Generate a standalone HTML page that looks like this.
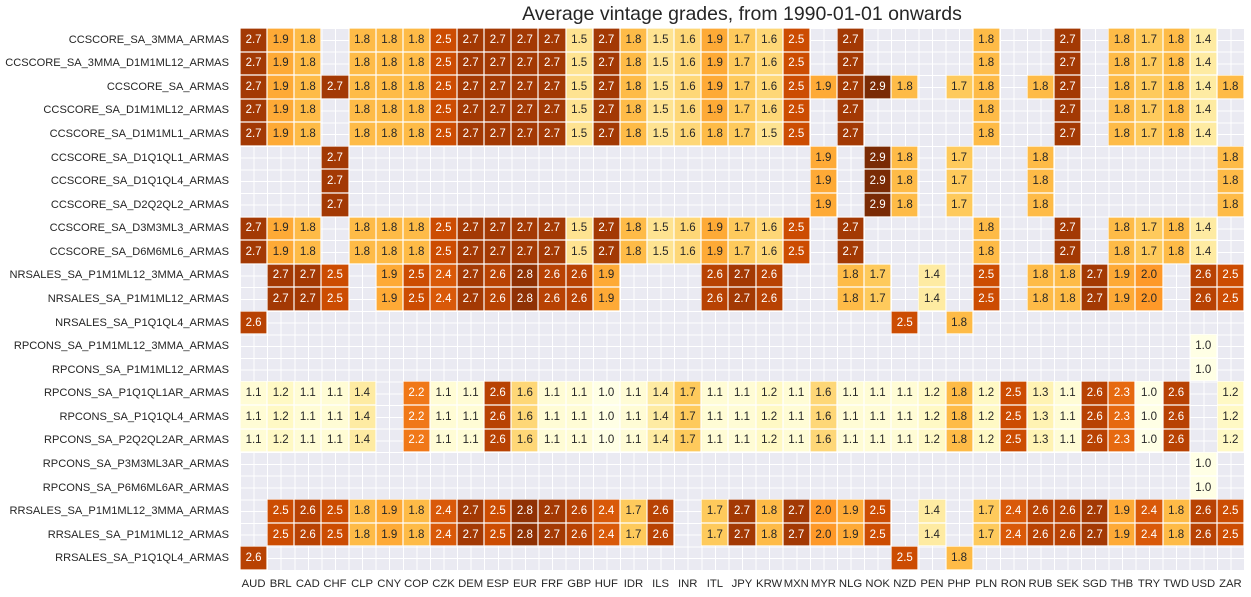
<!DOCTYPE html>
<html><head><meta charset="utf-8"><style>
body{margin:0;width:1251px;height:597px;background:#fff;position:relative;font-family:"Liberation Sans",Arial,sans-serif;color:#262626;overflow:hidden}
#t{position:absolute;left:240px;width:1004px;top:3px;text-align:center;font-size:19.5px}
#g{position:absolute;left:240px;top:28px;width:1004px;height:542px;display:grid;grid-template-columns:repeat(37,1fr);grid-template-rows:repeat(23,1fr);
background-color:#eaeaf2;
background-image:repeating-linear-gradient(to right,#fff 0,#fff 1px,transparent 1px,transparent 13.5676px),repeating-linear-gradient(to bottom,#fff 0,#fff 1px,transparent 1px,transparent 11.7826px);}
#g i{font-style:normal;display:flex;align-items:center;justify-content:center;font-size:11.5px}
#g i:not(:empty){box-shadow:inset 0 0 0 0.6px #fff}
#r{position:absolute;left:0;width:229px;top:28px;height:542px;display:grid;grid-template-rows:repeat(23,1fr);font-size:11.1px;text-align:right}
#r div{display:flex;align-items:center;justify-content:flex-end}
#c{position:absolute;left:240px;width:1004px;top:578px;display:grid;grid-template-columns:repeat(37,1fr);font-size:11.3px;text-align:center}
.v10{background:#ffffe5}.v11{background:#fffcd5}.v12{background:#fff9c4}.v13{background:#fff3b3}.v14{background:#feeba2}.v15{background:#fee391}.v16{background:#fed777}.v17{background:#feca5c}.v18{background:#febb47}.v19{background:#feaa36}.v20{background:#fe9929}
.v22{background:#f07818;color:#fff}.v23{background:#e66910;color:#fff}.v24{background:#d95909;color:#fff}.v25{background:#cc4c02;color:#fff}.v26{background:#b84203;color:#fff}.v27{background:#a33904;color:#fff}.v28{background:#8f3104;color:#fff}.v29{background:#7a2b05;color:#fff}
</style></head><body>
<div id="t">Average vintage grades, from 1990-01-01 onwards</div>
<div id="r">
<div>CCSCORE_SA_3MMA_ARMAS</div><div>CCSCORE_SA_3MMA_D1M1ML12_ARMAS</div><div>CCSCORE_SA_ARMAS</div><div>CCSCORE_SA_D1M1ML12_ARMAS</div><div>CCSCORE_SA_D1M1ML1_ARMAS</div><div>CCSCORE_SA_D1Q1QL1_ARMAS</div><div>CCSCORE_SA_D1Q1QL4_ARMAS</div><div>CCSCORE_SA_D2Q2QL2_ARMAS</div><div>CCSCORE_SA_D3M3ML3_ARMAS</div><div>CCSCORE_SA_D6M6ML6_ARMAS</div><div>NRSALES_SA_P1M1ML12_3MMA_ARMAS</div><div>NRSALES_SA_P1M1ML12_ARMAS</div><div>NRSALES_SA_P1Q1QL4_ARMAS</div><div>RPCONS_SA_P1M1ML12_3MMA_ARMAS</div><div>RPCONS_SA_P1M1ML12_ARMAS</div><div>RPCONS_SA_P1Q1QL1AR_ARMAS</div><div>RPCONS_SA_P1Q1QL4_ARMAS</div><div>RPCONS_SA_P2Q2QL2AR_ARMAS</div><div>RPCONS_SA_P3M3ML3AR_ARMAS</div><div>RPCONS_SA_P6M6ML6AR_ARMAS</div><div>RRSALES_SA_P1M1ML12_3MMA_ARMAS</div><div>RRSALES_SA_P1M1ML12_ARMAS</div><div>RRSALES_SA_P1Q1QL4_ARMAS</div>
</div>
<div id="g">
<i class=v27>2.7</i><i class=v19>1.9</i><i class=v18>1.8</i><i></i><i class=v18>1.8</i><i class=v18>1.8</i><i class=v18>1.8</i><i class=v25>2.5</i><i class=v27>2.7</i><i class=v27>2.7</i><i class=v27>2.7</i><i class=v27>2.7</i><i class=v15>1.5</i><i class=v27>2.7</i><i class=v18>1.8</i><i class=v15>1.5</i><i class=v16>1.6</i><i class=v19>1.9</i><i class=v17>1.7</i><i class=v16>1.6</i><i class=v25>2.5</i><i></i><i class=v27>2.7</i><i></i><i></i><i></i><i></i><i class=v18>1.8</i><i></i><i></i><i class=v27>2.7</i><i></i><i class=v18>1.8</i><i class=v17>1.7</i><i class=v18>1.8</i><i class=v14>1.4</i><i></i>
<i class=v27>2.7</i><i class=v19>1.9</i><i class=v18>1.8</i><i></i><i class=v18>1.8</i><i class=v18>1.8</i><i class=v18>1.8</i><i class=v25>2.5</i><i class=v27>2.7</i><i class=v27>2.7</i><i class=v27>2.7</i><i class=v27>2.7</i><i class=v15>1.5</i><i class=v27>2.7</i><i class=v18>1.8</i><i class=v15>1.5</i><i class=v16>1.6</i><i class=v19>1.9</i><i class=v17>1.7</i><i class=v16>1.6</i><i class=v25>2.5</i><i></i><i class=v27>2.7</i><i></i><i></i><i></i><i></i><i class=v18>1.8</i><i></i><i></i><i class=v27>2.7</i><i></i><i class=v18>1.8</i><i class=v17>1.7</i><i class=v18>1.8</i><i class=v14>1.4</i><i></i>
<i class=v27>2.7</i><i class=v19>1.9</i><i class=v18>1.8</i><i class=v27>2.7</i><i class=v18>1.8</i><i class=v18>1.8</i><i class=v18>1.8</i><i class=v25>2.5</i><i class=v27>2.7</i><i class=v27>2.7</i><i class=v27>2.7</i><i class=v27>2.7</i><i class=v15>1.5</i><i class=v27>2.7</i><i class=v18>1.8</i><i class=v15>1.5</i><i class=v16>1.6</i><i class=v19>1.9</i><i class=v17>1.7</i><i class=v16>1.6</i><i class=v25>2.5</i><i class=v19>1.9</i><i class=v27>2.7</i><i class=v29>2.9</i><i class=v18>1.8</i><i></i><i class=v17>1.7</i><i class=v18>1.8</i><i></i><i class=v18>1.8</i><i class=v27>2.7</i><i></i><i class=v18>1.8</i><i class=v17>1.7</i><i class=v18>1.8</i><i class=v14>1.4</i><i class=v18>1.8</i>
<i class=v27>2.7</i><i class=v19>1.9</i><i class=v18>1.8</i><i></i><i class=v18>1.8</i><i class=v18>1.8</i><i class=v18>1.8</i><i class=v25>2.5</i><i class=v27>2.7</i><i class=v27>2.7</i><i class=v27>2.7</i><i class=v27>2.7</i><i class=v15>1.5</i><i class=v27>2.7</i><i class=v18>1.8</i><i class=v15>1.5</i><i class=v16>1.6</i><i class=v19>1.9</i><i class=v17>1.7</i><i class=v16>1.6</i><i class=v25>2.5</i><i></i><i class=v27>2.7</i><i></i><i></i><i></i><i></i><i class=v18>1.8</i><i></i><i></i><i class=v27>2.7</i><i></i><i class=v18>1.8</i><i class=v17>1.7</i><i class=v18>1.8</i><i class=v14>1.4</i><i></i>
<i class=v27>2.7</i><i class=v19>1.9</i><i class=v18>1.8</i><i></i><i class=v18>1.8</i><i class=v18>1.8</i><i class=v18>1.8</i><i class=v25>2.5</i><i class=v27>2.7</i><i class=v27>2.7</i><i class=v27>2.7</i><i class=v27>2.7</i><i class=v15>1.5</i><i class=v27>2.7</i><i class=v18>1.8</i><i class=v15>1.5</i><i class=v16>1.6</i><i class=v18>1.8</i><i class=v17>1.7</i><i class=v15>1.5</i><i class=v25>2.5</i><i></i><i class=v27>2.7</i><i></i><i></i><i></i><i></i><i class=v18>1.8</i><i></i><i></i><i class=v27>2.7</i><i></i><i class=v18>1.8</i><i class=v17>1.7</i><i class=v18>1.8</i><i class=v14>1.4</i><i></i>
<i></i><i></i><i></i><i class=v27>2.7</i><i></i><i></i><i></i><i></i><i></i><i></i><i></i><i></i><i></i><i></i><i></i><i></i><i></i><i></i><i></i><i></i><i></i><i class=v19>1.9</i><i></i><i class=v29>2.9</i><i class=v18>1.8</i><i></i><i class=v17>1.7</i><i></i><i></i><i class=v18>1.8</i><i></i><i></i><i></i><i></i><i></i><i></i><i class=v18>1.8</i>
<i></i><i></i><i></i><i class=v27>2.7</i><i></i><i></i><i></i><i></i><i></i><i></i><i></i><i></i><i></i><i></i><i></i><i></i><i></i><i></i><i></i><i></i><i></i><i class=v19>1.9</i><i></i><i class=v29>2.9</i><i class=v18>1.8</i><i></i><i class=v17>1.7</i><i></i><i></i><i class=v18>1.8</i><i></i><i></i><i></i><i></i><i></i><i></i><i class=v18>1.8</i>
<i></i><i></i><i></i><i class=v27>2.7</i><i></i><i></i><i></i><i></i><i></i><i></i><i></i><i></i><i></i><i></i><i></i><i></i><i></i><i></i><i></i><i></i><i></i><i class=v19>1.9</i><i></i><i class=v29>2.9</i><i class=v18>1.8</i><i></i><i class=v17>1.7</i><i></i><i></i><i class=v18>1.8</i><i></i><i></i><i></i><i></i><i></i><i></i><i class=v18>1.8</i>
<i class=v27>2.7</i><i class=v19>1.9</i><i class=v18>1.8</i><i></i><i class=v18>1.8</i><i class=v18>1.8</i><i class=v18>1.8</i><i class=v25>2.5</i><i class=v27>2.7</i><i class=v27>2.7</i><i class=v27>2.7</i><i class=v27>2.7</i><i class=v15>1.5</i><i class=v27>2.7</i><i class=v18>1.8</i><i class=v15>1.5</i><i class=v16>1.6</i><i class=v19>1.9</i><i class=v17>1.7</i><i class=v16>1.6</i><i class=v25>2.5</i><i></i><i class=v27>2.7</i><i></i><i></i><i></i><i></i><i class=v18>1.8</i><i></i><i></i><i class=v27>2.7</i><i></i><i class=v18>1.8</i><i class=v17>1.7</i><i class=v18>1.8</i><i class=v14>1.4</i><i></i>
<i class=v27>2.7</i><i class=v19>1.9</i><i class=v18>1.8</i><i></i><i class=v18>1.8</i><i class=v18>1.8</i><i class=v18>1.8</i><i class=v25>2.5</i><i class=v27>2.7</i><i class=v27>2.7</i><i class=v27>2.7</i><i class=v27>2.7</i><i class=v15>1.5</i><i class=v27>2.7</i><i class=v18>1.8</i><i class=v15>1.5</i><i class=v16>1.6</i><i class=v19>1.9</i><i class=v17>1.7</i><i class=v16>1.6</i><i class=v25>2.5</i><i></i><i class=v27>2.7</i><i></i><i></i><i></i><i></i><i class=v18>1.8</i><i></i><i></i><i class=v27>2.7</i><i></i><i class=v18>1.8</i><i class=v17>1.7</i><i class=v18>1.8</i><i class=v14>1.4</i><i></i>
<i></i><i class=v27>2.7</i><i class=v27>2.7</i><i class=v25>2.5</i><i></i><i class=v19>1.9</i><i class=v25>2.5</i><i class=v24>2.4</i><i class=v27>2.7</i><i class=v26>2.6</i><i class=v28>2.8</i><i class=v26>2.6</i><i class=v26>2.6</i><i class=v19>1.9</i><i></i><i></i><i></i><i class=v26>2.6</i><i class=v27>2.7</i><i class=v26>2.6</i><i></i><i></i><i class=v18>1.8</i><i class=v17>1.7</i><i></i><i class=v14>1.4</i><i></i><i class=v25>2.5</i><i></i><i class=v18>1.8</i><i class=v18>1.8</i><i class=v27>2.7</i><i class=v19>1.9</i><i class=v20>2.0</i><i></i><i class=v26>2.6</i><i class=v25>2.5</i>
<i></i><i class=v27>2.7</i><i class=v27>2.7</i><i class=v25>2.5</i><i></i><i class=v19>1.9</i><i class=v25>2.5</i><i class=v24>2.4</i><i class=v27>2.7</i><i class=v26>2.6</i><i class=v28>2.8</i><i class=v26>2.6</i><i class=v26>2.6</i><i class=v19>1.9</i><i></i><i></i><i></i><i class=v26>2.6</i><i class=v27>2.7</i><i class=v26>2.6</i><i></i><i></i><i class=v18>1.8</i><i class=v17>1.7</i><i></i><i class=v14>1.4</i><i></i><i class=v25>2.5</i><i></i><i class=v18>1.8</i><i class=v18>1.8</i><i class=v27>2.7</i><i class=v19>1.9</i><i class=v20>2.0</i><i></i><i class=v26>2.6</i><i class=v25>2.5</i>
<i class=v26>2.6</i><i></i><i></i><i></i><i></i><i></i><i></i><i></i><i></i><i></i><i></i><i></i><i></i><i></i><i></i><i></i><i></i><i></i><i></i><i></i><i></i><i></i><i></i><i></i><i class=v25>2.5</i><i></i><i class=v18>1.8</i><i></i><i></i><i></i><i></i><i></i><i></i><i></i><i></i><i></i><i></i>
<i></i><i></i><i></i><i></i><i></i><i></i><i></i><i></i><i></i><i></i><i></i><i></i><i></i><i></i><i></i><i></i><i></i><i></i><i></i><i></i><i></i><i></i><i></i><i></i><i></i><i></i><i></i><i></i><i></i><i></i><i></i><i></i><i></i><i></i><i></i><i class=v10>1.0</i><i></i>
<i></i><i></i><i></i><i></i><i></i><i></i><i></i><i></i><i></i><i></i><i></i><i></i><i></i><i></i><i></i><i></i><i></i><i></i><i></i><i></i><i></i><i></i><i></i><i></i><i></i><i></i><i></i><i></i><i></i><i></i><i></i><i></i><i></i><i></i><i></i><i class=v10>1.0</i><i></i>
<i class=v11>1.1</i><i class=v12>1.2</i><i class=v11>1.1</i><i class=v11>1.1</i><i class=v14>1.4</i><i></i><i class=v22>2.2</i><i class=v11>1.1</i><i class=v11>1.1</i><i class=v26>2.6</i><i class=v16>1.6</i><i class=v11>1.1</i><i class=v11>1.1</i><i class=v10>1.0</i><i class=v11>1.1</i><i class=v14>1.4</i><i class=v17>1.7</i><i class=v11>1.1</i><i class=v11>1.1</i><i class=v12>1.2</i><i class=v11>1.1</i><i class=v16>1.6</i><i class=v11>1.1</i><i class=v11>1.1</i><i class=v11>1.1</i><i class=v12>1.2</i><i class=v18>1.8</i><i class=v12>1.2</i><i class=v25>2.5</i><i class=v13>1.3</i><i class=v11>1.1</i><i class=v26>2.6</i><i class=v23>2.3</i><i class=v10>1.0</i><i class=v26>2.6</i><i></i><i class=v12>1.2</i>
<i class=v11>1.1</i><i class=v12>1.2</i><i class=v11>1.1</i><i class=v11>1.1</i><i class=v14>1.4</i><i></i><i class=v22>2.2</i><i class=v11>1.1</i><i class=v11>1.1</i><i class=v26>2.6</i><i class=v16>1.6</i><i class=v11>1.1</i><i class=v11>1.1</i><i class=v10>1.0</i><i class=v11>1.1</i><i class=v14>1.4</i><i class=v17>1.7</i><i class=v11>1.1</i><i class=v11>1.1</i><i class=v12>1.2</i><i class=v11>1.1</i><i class=v16>1.6</i><i class=v11>1.1</i><i class=v11>1.1</i><i class=v11>1.1</i><i class=v12>1.2</i><i class=v18>1.8</i><i class=v12>1.2</i><i class=v25>2.5</i><i class=v13>1.3</i><i class=v11>1.1</i><i class=v26>2.6</i><i class=v23>2.3</i><i class=v10>1.0</i><i class=v26>2.6</i><i></i><i class=v12>1.2</i>
<i class=v11>1.1</i><i class=v12>1.2</i><i class=v11>1.1</i><i class=v11>1.1</i><i class=v14>1.4</i><i></i><i class=v22>2.2</i><i class=v11>1.1</i><i class=v11>1.1</i><i class=v26>2.6</i><i class=v16>1.6</i><i class=v11>1.1</i><i class=v11>1.1</i><i class=v10>1.0</i><i class=v11>1.1</i><i class=v14>1.4</i><i class=v17>1.7</i><i class=v11>1.1</i><i class=v11>1.1</i><i class=v12>1.2</i><i class=v11>1.1</i><i class=v16>1.6</i><i class=v11>1.1</i><i class=v11>1.1</i><i class=v11>1.1</i><i class=v12>1.2</i><i class=v18>1.8</i><i class=v12>1.2</i><i class=v25>2.5</i><i class=v13>1.3</i><i class=v11>1.1</i><i class=v26>2.6</i><i class=v23>2.3</i><i class=v10>1.0</i><i class=v26>2.6</i><i></i><i class=v12>1.2</i>
<i></i><i></i><i></i><i></i><i></i><i></i><i></i><i></i><i></i><i></i><i></i><i></i><i></i><i></i><i></i><i></i><i></i><i></i><i></i><i></i><i></i><i></i><i></i><i></i><i></i><i></i><i></i><i></i><i></i><i></i><i></i><i></i><i></i><i></i><i></i><i class=v10>1.0</i><i></i>
<i></i><i></i><i></i><i></i><i></i><i></i><i></i><i></i><i></i><i></i><i></i><i></i><i></i><i></i><i></i><i></i><i></i><i></i><i></i><i></i><i></i><i></i><i></i><i></i><i></i><i></i><i></i><i></i><i></i><i></i><i></i><i></i><i></i><i></i><i></i><i class=v10>1.0</i><i></i>
<i></i><i class=v25>2.5</i><i class=v26>2.6</i><i class=v25>2.5</i><i class=v18>1.8</i><i class=v19>1.9</i><i class=v18>1.8</i><i class=v24>2.4</i><i class=v27>2.7</i><i class=v25>2.5</i><i class=v28>2.8</i><i class=v27>2.7</i><i class=v26>2.6</i><i class=v24>2.4</i><i class=v17>1.7</i><i class=v26>2.6</i><i></i><i class=v17>1.7</i><i class=v27>2.7</i><i class=v18>1.8</i><i class=v27>2.7</i><i class=v20>2.0</i><i class=v19>1.9</i><i class=v25>2.5</i><i></i><i class=v14>1.4</i><i></i><i class=v17>1.7</i><i class=v24>2.4</i><i class=v26>2.6</i><i class=v26>2.6</i><i class=v27>2.7</i><i class=v19>1.9</i><i class=v24>2.4</i><i class=v18>1.8</i><i class=v26>2.6</i><i class=v25>2.5</i>
<i></i><i class=v25>2.5</i><i class=v26>2.6</i><i class=v25>2.5</i><i class=v18>1.8</i><i class=v19>1.9</i><i class=v18>1.8</i><i class=v24>2.4</i><i class=v27>2.7</i><i class=v25>2.5</i><i class=v28>2.8</i><i class=v27>2.7</i><i class=v26>2.6</i><i class=v24>2.4</i><i class=v17>1.7</i><i class=v26>2.6</i><i></i><i class=v17>1.7</i><i class=v27>2.7</i><i class=v18>1.8</i><i class=v27>2.7</i><i class=v20>2.0</i><i class=v19>1.9</i><i class=v25>2.5</i><i></i><i class=v14>1.4</i><i></i><i class=v17>1.7</i><i class=v24>2.4</i><i class=v26>2.6</i><i class=v26>2.6</i><i class=v27>2.7</i><i class=v19>1.9</i><i class=v24>2.4</i><i class=v18>1.8</i><i class=v26>2.6</i><i class=v25>2.5</i>
<i class=v26>2.6</i><i></i><i></i><i></i><i></i><i></i><i></i><i></i><i></i><i></i><i></i><i></i><i></i><i></i><i></i><i></i><i></i><i></i><i></i><i></i><i></i><i></i><i></i><i></i><i class=v25>2.5</i><i></i><i class=v18>1.8</i><i></i><i></i><i></i><i></i><i></i><i></i><i></i><i></i><i></i><i></i>
</div>
<div id="c"><div>AUD</div><div>BRL</div><div>CAD</div><div>CHF</div><div>CLP</div><div>CNY</div><div>COP</div><div>CZK</div><div>DEM</div><div>ESP</div><div>EUR</div><div>FRF</div><div>GBP</div><div>HUF</div><div>IDR</div><div>ILS</div><div>INR</div><div>ITL</div><div>JPY</div><div>KRW</div><div>MXN</div><div>MYR</div><div>NLG</div><div>NOK</div><div>NZD</div><div>PEN</div><div>PHP</div><div>PLN</div><div>RON</div><div>RUB</div><div>SEK</div><div>SGD</div><div>THB</div><div>TRY</div><div>TWD</div><div>USD</div><div>ZAR</div></div>
</body></html>
